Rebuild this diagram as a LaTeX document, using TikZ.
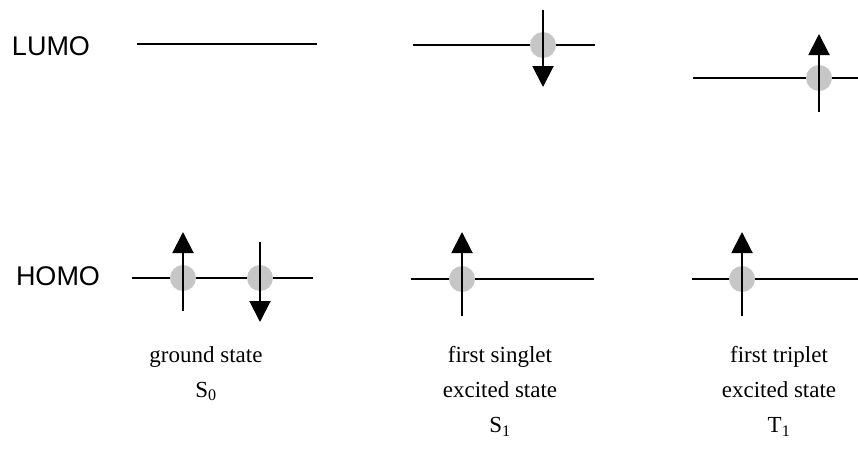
\documentclass[tikz,border=0pt]{standalone}
\usepackage{fontspec}
\setmainfont{Liberation Serif}
\newfontfamily\levelfont{Liberation Sans}
\usetikzlibrary{positioning,arrows.meta}

\tikzset{
  level/.style={line width=2pt},
  electron/.style={circle, fill=gray!45, minimum size=26pt, inner sep=0pt},
  spin/.style={line width=2pt, -{Triangle[length=21pt,width=21pt]}},
  orbital/.style={font=\levelfont\fontsize{27}{30}\selectfont},
  caption/.style={align=center, inner sep=0pt, anchor=north, font=\fontsize{23}{35}\selectfont}
}

\begin{document}
\begin{tikzpicture}[x=1pt, y=-1pt]
  \useasboundingbox (0,0) rectangle (858,448);

  % orbital names
  \node[orbital] (lumo) at (51,46) {LUMO};
  \node[orbital] (homo) at (58,276) {HOMO};

  % energy levels
  \coordinate (s0-lumo-l) at (137,44);  \coordinate (s0-lumo-r) at (317,44);
  \coordinate (s0-homo-l) at (132,278); \coordinate (s0-homo-r) at (313,278);
  \coordinate (s1-lumo-l) at (413,45);  \coordinate (s1-lumo-r) at (595,45);
  \coordinate (s1-homo-l) at (411,279); \coordinate (s1-homo-r) at (594,279);
  \coordinate (t1-lumo-l) at (693,78);  \coordinate (t1-lumo-r) at (858,78);
  \coordinate (t1-homo-l) at (692,279); \coordinate (t1-homo-r) at (858,279);

  \draw[level] (s0-lumo-l) -- (s0-lumo-r);
  \draw[level] (s0-homo-l) -- (s0-homo-r);
  \draw[level] (s1-lumo-l) -- (s1-lumo-r);
  \draw[level] (s1-homo-l) -- (s1-homo-r);
  \draw[level] (t1-lumo-l) -- (t1-lumo-r);
  \draw[level] (t1-homo-l) -- (t1-homo-r);

  % electrons
  \node[electron] (s0a) at (183,278) {};
  \node[electron] (s0b) at (260,278) {};
  \node[electron] (s1up) at (543,45) {};
  \node[electron] (s1lo) at (462,279) {};
  \node[electron] (t1up) at (819,78) {};
  \node[electron] (t1lo) at (742,279) {};

  % spins
  \coordinate (s0a-tail) at (183,311);  \coordinate (s0a-tip) at (183,232);
  \coordinate (s0b-tail) at (260,242);  \coordinate (s0b-tip) at (260,322);
  \coordinate (s1up-tail) at (543,10);  \coordinate (s1up-tip) at (543,87);
  \coordinate (s1lo-tail) at (462,316); \coordinate (s1lo-tip) at (462,232);
  \coordinate (t1up-tail) at (819,112); \coordinate (t1up-tip) at (819,34);
  \coordinate (t1lo-tail) at (742,316); \coordinate (t1lo-tip) at (742,232);

  \draw[spin] (s0a-tail) -- (s0a.center) -- (s0a-tip);
  \draw[spin] (s0b-tail) -- (s0b.center) -- (s0b-tip);
  \draw[spin] (s1up-tail) -- (s1up.center) -- (s1up-tip);
  \draw[spin] (s1lo-tail) -- (s1lo.center) -- (s1lo-tip);
  \draw[spin] (t1up-tail) -- (t1up.center) -- (t1up-tip);
  \draw[spin] (t1lo-tail) -- (t1lo.center) -- (t1lo-tip);

  % state names
  \node[caption] (ground) at (206,346) {ground state\\S\textsubscript{0}};
  \node[caption] (singlet) at (500,346) {first singlet\\excited state\\S\textsubscript{1}};
  \node[caption] (triplet) at (779,346) {first triplet\\excited state\\T\textsubscript{1}};
\end{tikzpicture}
\end{document}
